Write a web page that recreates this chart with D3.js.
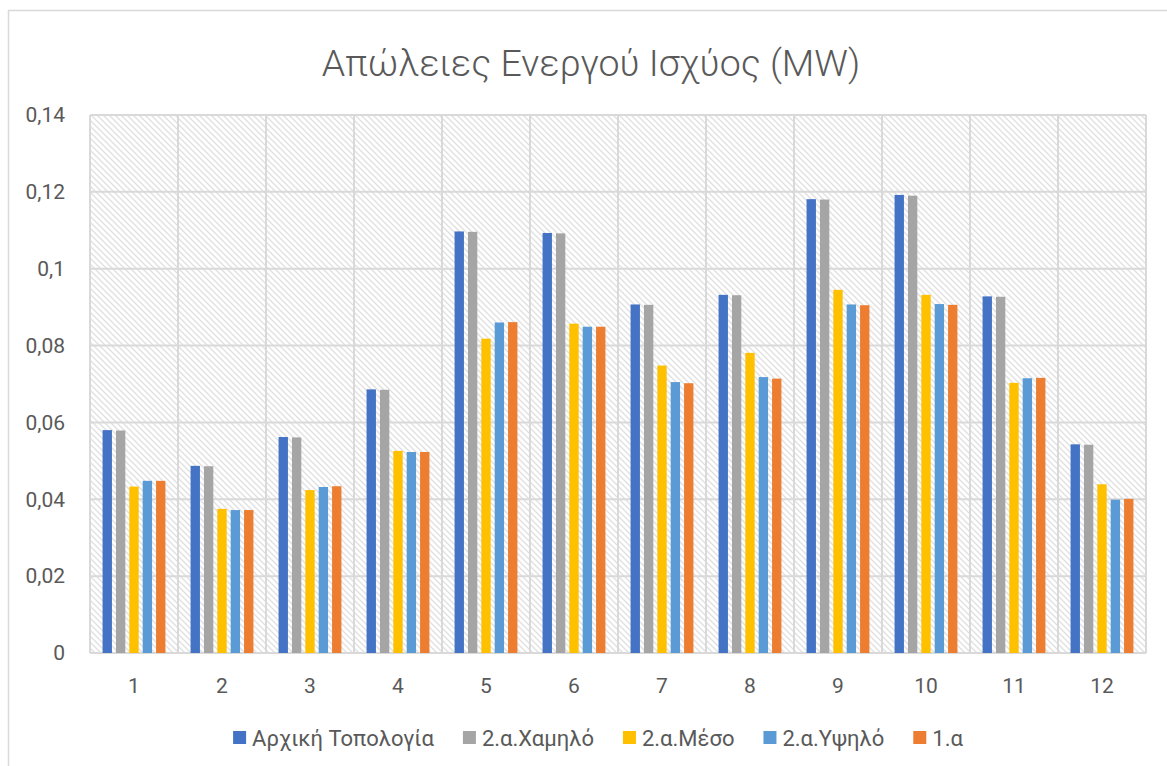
<!DOCTYPE html>
<html lang="el">
<head>
<meta charset="utf-8">
<title>Απώλειες Ενεργού Ισχύος (MW)</title>
<script src="https://cdnjs.cloudflare.com/ajax/libs/d3/7.8.5/d3.min.js"></script>
<style>
  body { margin: 0; background: #fff; }
  svg { display: block; font-family: Roboto, "Noto Sans", sans-serif; }
</style>
</head>
<body>
<div id="chart"></div>
<script>
// categories and series
const categories = ['1', '2', '3', '4', '5', '6', '7', '8', '9', '10', '11', '12'];
const seriesNames = ['Αρχική Τοπολογία', '2.α.Χαμηλό', '2.α.Μέσο', '2.α.Υψηλό', '1.α'];
const seriesColors = ['#4472c4', '#a5a5a5', '#ffc000', '#5b9bd5', '#ed7d31'];

const arxiki  = [0.0580, 0.0487, 0.0562, 0.0686, 0.1097, 0.1093, 0.0907, 0.0932, 0.1181, 0.1192, 0.0928, 0.0543];
const xamilo  = [0.0579, 0.0486, 0.0561, 0.0685, 0.1096, 0.1092, 0.0906, 0.0931, 0.1180, 0.1190, 0.0927, 0.0542];
const meso    = [0.0433, 0.0375, 0.0424, 0.0526, 0.0818, 0.0857, 0.0748, 0.0781, 0.0945, 0.0932, 0.0703, 0.0439];
const ypsilo  = [0.0448, 0.0372, 0.0432, 0.0523, 0.0860, 0.0849, 0.0705, 0.0718, 0.0907, 0.0908, 0.0715, 0.0399];
const ena_a   = [0.0448, 0.0372, 0.0434, 0.0523, 0.0861, 0.0849, 0.0702, 0.0714, 0.0905, 0.0906, 0.0716, 0.0401];

const yTicks = [0, 0.02, 0.04, 0.06, 0.08, 0.1, 0.12, 0.14];
const yTickLabels = ['0', '0,02', '0,04', '0,06', '0,08', '0,1', '0,12', '0,14'];

const allSeries = [arxiki, xamilo, meso, ypsilo, ena_a];

const W = 1167, H = 766;
const plot = { left: 90, right: 1146, top: 115, bottom: 653 };
const textCol = '#595959';
const gridCol = '#d9d9d9';

const svg = d3.select('#chart').append('svg')
  .attr('width', W)
  .attr('height', H);

// hatch fill like excel's wide downward diagonal
const defs = svg.append('defs');
const pat = defs.append('pattern')
  .attr('id', 'hatch')
  .attr('patternUnits', 'userSpaceOnUse')
  .attr('width', 6)
  .attr('height', 6);
pat.append('rect').attr('width', 6).attr('height', 6).attr('fill', '#fff');
pat.append('path')
  .attr('d', 'M-1,-1 L7,7 M-1,5 L1,7 M5,-1 L7,1')
  .attr('stroke', '#e0e0e0')
  .attr('stroke-width', 1.3);

// outer chart frame
svg.append('rect')
  .attr('x', 8.5).attr('y', 10.5)
  .attr('width', W + 20).attr('height', H + 20)
  .attr('fill', 'none')
  .attr('stroke', gridCol)
  .attr('stroke-width', 1.5);

const x = d3.scaleBand()
  .domain(categories)
  .range([plot.left, plot.right])
  .padding(0);

const xs = d3.scaleBand()
  .domain(d3.range(seriesNames.length))
  .range([0, x.bandwidth()])
  .paddingInner(0.3)
  .paddingOuter(0.94);

const y = d3.scaleLinear()
  .domain([0, 0.14])
  .range([plot.bottom, plot.top]);

// plot background
svg.append('rect')
  .attr('x', plot.left).attr('y', plot.top)
  .attr('width', plot.right - plot.left)
  .attr('height', plot.bottom - plot.top)
  .attr('fill', 'url(#hatch)');

// horizontal gridlines
svg.append('g')
  .selectAll('line')
  .data(yTicks)
  .enter().append('line')
  .attr('x1', plot.left).attr('x2', plot.right)
  .attr('y1', d => y(d)).attr('y2', d => y(d))
  .attr('stroke', gridCol)
  .attr('stroke-width', 2);

// vertical gridlines at category edges
const edges = categories.map(c => x(c)).concat([plot.right]);
svg.append('g')
  .selectAll('line')
  .data(edges)
  .enter().append('line')
  .attr('x1', d => d).attr('x2', d => d)
  .attr('y1', plot.top).attr('y2', plot.bottom)
  .attr('stroke', gridCol)
  .attr('stroke-width', 2);

// bars
const groups = svg.append('g')
  .selectAll('g')
  .data(allSeries)
  .enter().append('g')
  .attr('fill', (d, i) => seriesColors[i]);

groups.each(function (vals, si) {
  d3.select(this).selectAll('rect')
    .data(vals)
    .enter().append('rect')
    .attr('x', (v, ci) => x(categories[ci]) + xs(si))
    .attr('width', xs.bandwidth())
    .attr('y', v => y(v))
    .attr('height', v => y(0) - y(v));
});

// y axis labels
const yAxis = d3.axisLeft(y)
  .tickValues(yTicks)
  .tickFormat((d, i) => yTickLabels[i])
  .tickSize(0)
  .tickPadding(25);
const gy = svg.append('g')
  .attr('transform', `translate(${plot.left},0)`)
  .call(yAxis);
gy.select('.domain').remove();
gy.selectAll('text')
  .attr('fill', textCol)
  .style('font-size', '21px')
  .style('font-family', 'Roboto, "Noto Sans", sans-serif');

// x axis labels
const xAxis = d3.axisBottom(x).tickSize(0).tickPadding(25);
const gx = svg.append('g')
  .attr('transform', `translate(0,${plot.bottom})`)
  .call(xAxis);
gx.select('.domain').remove();
gx.selectAll('text')
  .attr('fill', textCol)
  .style('font-size', '21px')
  .style('font-family', 'Roboto, "Noto Sans", sans-serif');

// title
svg.append('text')
  .attr('x', 591)
  .attr('y', 76)
  .attr('text-anchor', 'middle')
  .attr('fill', textCol)
  .style('font-size', '37.5px')
  .style('font-weight', 300)
  .text('Απώλειες Ενεργού Ισχύος (MW)');

// legend, laid out from measured text widths
const legend = svg.append('g');
const items = legend.selectAll('g')
  .data(seriesNames)
  .enter().append('g');
items.append('rect')
  .attr('width', 13).attr('height', 13)
  .attr('y', -7)
  .attr('fill', (d, i) => seriesColors[i]);
items.append('text')
  .attr('x', 19)
  .attr('dy', '0.35em')
  .attr('fill', textCol)
  .style('font-size', '22px')
  .text(d => d);

let cx = 0;
items.each(function () {
  const w = this.querySelector('text').getComputedTextLength();
  d3.select(this).attr('transform', `translate(${cx},0)`);
  cx += 19 + w + 29;
});
const legendW = cx - 29;
legend.attr('transform', `translate(${598 - legendW / 2},738)`);
</script>
</body>
</html>
